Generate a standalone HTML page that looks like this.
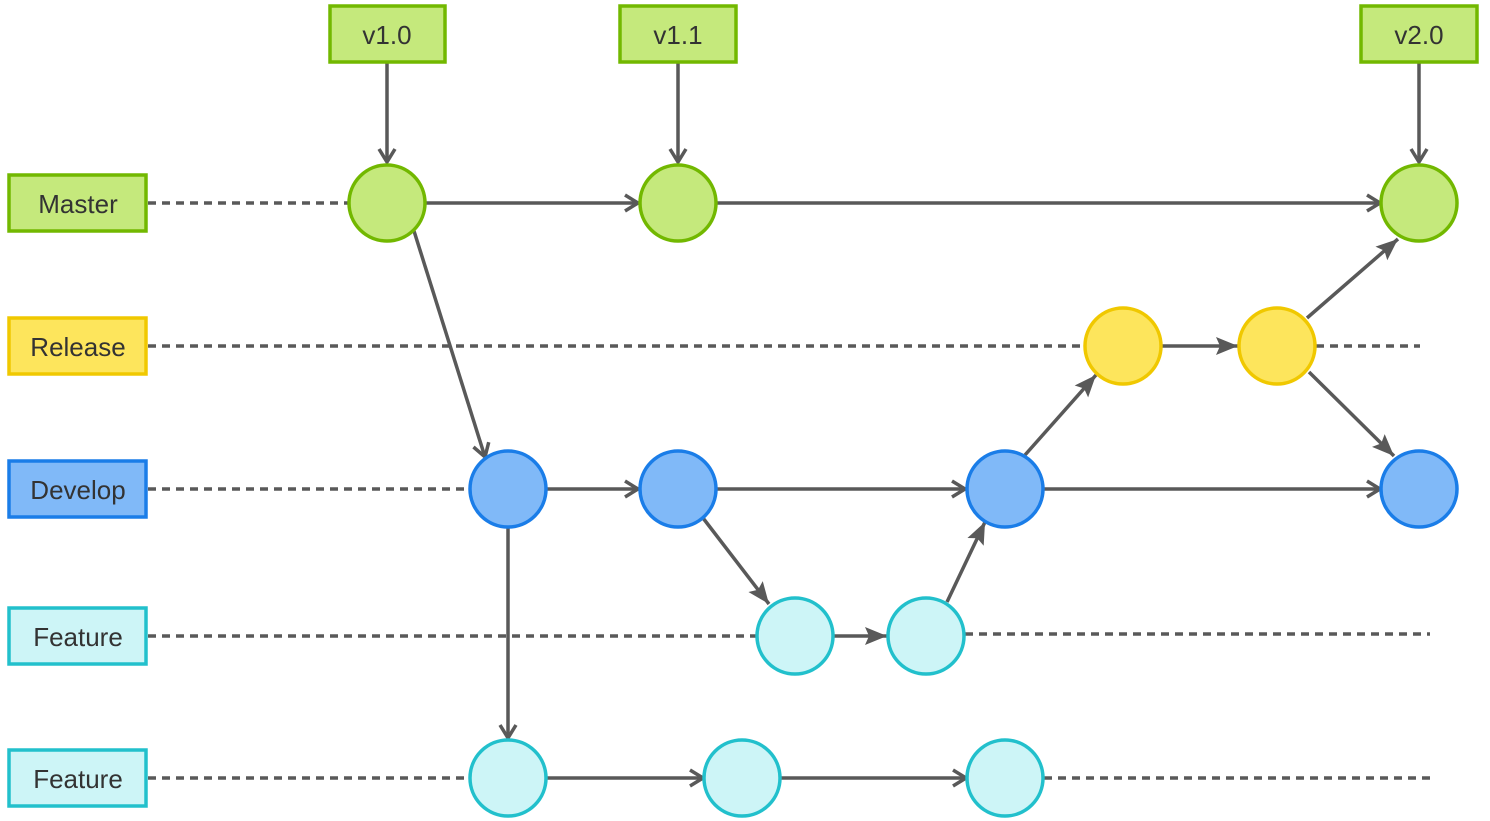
<!DOCTYPE html>
<html><head><meta charset="utf-8"><style>
html,body{margin:0;padding:0;background:#fff;}
svg{display:block}
text{font-family:"Liberation Sans","DejaVu Sans",sans-serif;font-size:26px;fill:#333;text-anchor:middle;dominant-baseline:central}
</style></head><body>
<svg width="1490" height="821" viewBox="0 0 1490 821" xmlns="http://www.w3.org/2000/svg">
<defs>
<marker id="o" viewBox="0 0 22 22" refX="19" refY="11" markerWidth="22" markerHeight="22" markerUnits="userSpaceOnUse" orient="auto">
<path d="M6,3 L19,11 L6,19" fill="none" stroke="#595959" stroke-width="3.5"/>
</marker>
<marker id="f" viewBox="0 0 26 22" refX="24" refY="11" markerWidth="26" markerHeight="22" markerUnits="userSpaceOnUse" orient="auto">
<path d="M2,2 L24,11 L2,20 L6,11 Z" fill="#595959"/>
</marker>
</defs>
<g stroke="#595959" stroke-width="3.5" fill="none">
<g stroke-dasharray="8 6">
<line x1="148" y1="203" x2="348" y2="203"/>
<line x1="148" y1="346" x2="1085" y2="346"/>
<line x1="1316" y1="346" x2="1420" y2="346"/>
<line x1="148" y1="489" x2="470" y2="489"/>
<line x1="148" y1="636" x2="757" y2="636"/>
<line x1="965" y1="634" x2="1430" y2="634"/>
<line x1="148" y1="778" x2="470" y2="778"/>
<line x1="1044" y1="778" x2="1432" y2="778"/>
</g>
<line x1="387" y1="62" x2="387" y2="162" marker-end="url(#o)"/>
<line x1="678" y1="62" x2="678" y2="162" marker-end="url(#o)"/>
<line x1="1419" y1="62" x2="1419" y2="162" marker-end="url(#o)"/>
<line x1="426" y1="203" x2="638" y2="203" marker-end="url(#o)"/>
<line x1="717" y1="203" x2="1380" y2="203" marker-end="url(#o)"/>
<line x1="414" y1="231" x2="485" y2="457" marker-end="url(#o)"/>
<line x1="547" y1="489" x2="638" y2="489" marker-end="url(#o)"/>
<line x1="717" y1="489" x2="965" y2="489" marker-end="url(#o)"/>
<line x1="1044" y1="489" x2="1380" y2="489" marker-end="url(#o)"/>
<line x1="703" y1="518" x2="769" y2="604" marker-end="url(#f)"/>
<line x1="834" y1="636" x2="887" y2="636" marker-end="url(#f)"/>
<line x1="947" y1="602" x2="985" y2="522" marker-end="url(#f)"/>
<line x1="1025" y1="455" x2="1096" y2="375" marker-end="url(#f)"/>
<line x1="1162" y1="346" x2="1238" y2="346" marker-end="url(#f)"/>
<line x1="1307" y1="318" x2="1398" y2="239" marker-end="url(#f)"/>
<line x1="1309" y1="372" x2="1394" y2="456" marker-end="url(#f)"/>
<line x1="508" y1="528" x2="508" y2="738" marker-end="url(#o)"/>
<line x1="547" y1="778" x2="703" y2="778" marker-end="url(#o)"/>
<line x1="781" y1="778" x2="966" y2="778" marker-end="url(#o)"/>
</g>
<g stroke-width="3.5">
<g fill="#c5e97c" stroke="#72b800">
<circle cx="387" cy="203" r="38"/><circle cx="678" cy="203" r="38"/><circle cx="1419" cy="203" r="38"/>
<rect x="330" y="6" width="115" height="56"/><rect x="620" y="6" width="116" height="56"/><rect x="1361" y="6" width="116" height="56"/>
<rect x="9" y="175" width="137" height="56"/>
</g>
<g fill="#fde55c" stroke="#f0c800">
<circle cx="1123" cy="346" r="38"/><circle cx="1277" cy="346" r="38"/>
<rect x="9" y="318" width="137" height="56"/>
</g>
<g fill="#80b9f8" stroke="#1a7de8">
<circle cx="508" cy="489" r="38"/><circle cx="678" cy="489" r="38"/><circle cx="1005" cy="489" r="38"/><circle cx="1419" cy="489" r="38"/>
<rect x="9" y="461" width="137" height="56"/>
</g>
<g fill="#cdf5f7" stroke="#22c0cc">
<circle cx="795" cy="636" r="38"/><circle cx="926" cy="636" r="38"/>
<circle cx="508" cy="778" r="38"/><circle cx="742" cy="778" r="38"/><circle cx="1005" cy="778" r="38"/>
<rect x="9" y="608" width="137" height="56"/><rect x="9" y="750" width="137" height="56"/>
</g>
</g>
<text x="387" y="35">v1.0</text>
<text x="678" y="35">v1.1</text>
<text x="1419" y="35">v2.0</text>
<text x="78" y="204">Master</text>
<text x="78" y="347">Release</text>
<text x="78" y="490">Develop</text>
<text x="78" y="637">Feature</text>
<text x="78" y="779">Feature</text>
</svg>
</body></html>
